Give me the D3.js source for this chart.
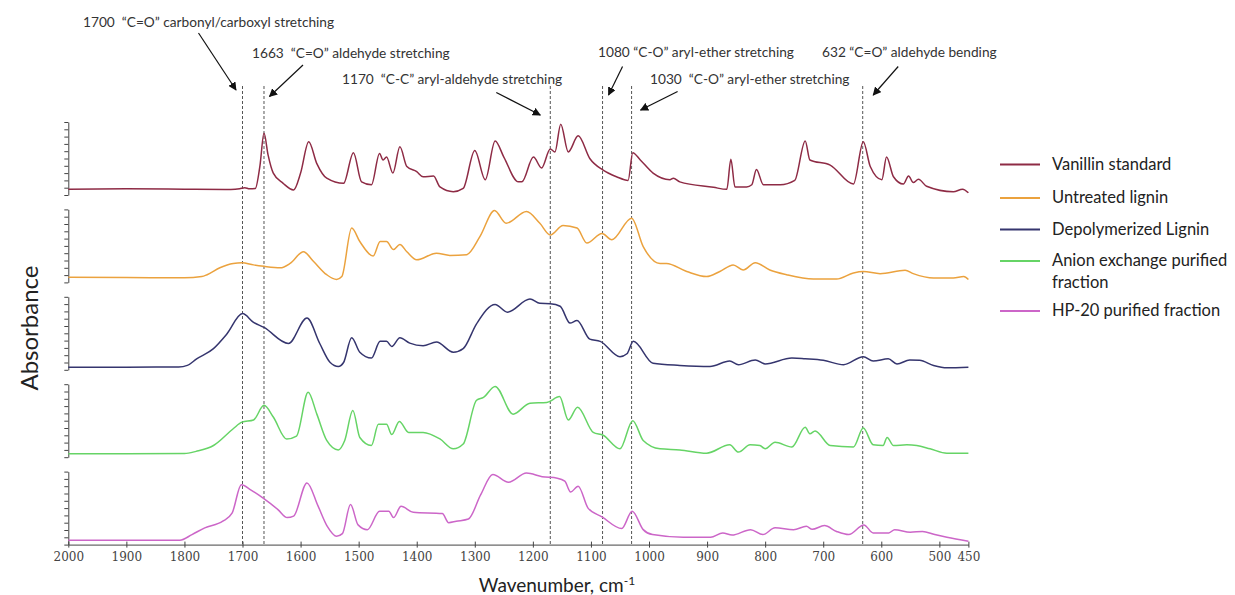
<!DOCTYPE html>
<html><head><meta charset="utf-8">
<script src="https://cdn.jsdelivr.net/npm/d3@7"></script>
<style>body{margin:0;background:#fff;} svg{display:block;}</style>
</head><body>
<svg id="chart" width="1235" height="595"></svg>
<script>
// ---------------- DATA ----------------
const seriesNames = ["Vanillin standard", "Untreated lignin", "Depolymerized Lignin", "Anion exchange purified fraction", "HP-20 purified fraction"];
const legendLines = [["Vanillin standard"], ["Untreated lignin"], ["Depolymerized Lignin"], ["Anion exchange purified", "fraction"], ["HP-20 purified fraction"]];

// [wavenumber cm-1, relative absorbance]
const vanillin = [[2000,0.08],[1900,0.085],[1800,0.08],[1720,0.075],[1705,0.085],[1696,0.10],[1688,0.085],[1678,0.09],[1670,0.4],[1663,0.845],[1656,0.55],[1647,0.30],[1630,0.16],[1612,0.07],[1600,0.3],[1586,0.73],[1572,0.43],[1555,0.23],[1526,0.16],[1509,0.58],[1495,0.18],[1478,0.14],[1464,0.57],[1458,0.48],[1452,0.52],[1441,0.30],[1429,0.66],[1417,0.39],[1400,0.32],[1389,0.25],[1371,0.26],[1360,0.11],[1337,0.045],[1320,0.09],[1300,0.61],[1282,0.21],[1265,0.74],[1250,0.52],[1225,0.18],[1219,0.18],[1199,0.52],[1185,0.37],[1170,0.63],[1162,0.59],[1152,0.97],[1139,0.59],[1122,0.81],[1102,0.50],[1079,0.34],[1056,0.25],[1036,0.20],[1028,0.58],[1015,0.48],[993,0.30],[964,0.21],[958,0.23],[947,0.18],[889,0.105],[866,0.078],[859,0.49],[852,0.11],[832,0.11],[823,0.14],[815,0.35],[803,0.14],[774,0.14],[749,0.20],[731,0.74],[723,0.48],[688,0.41],[648,0.15],[631,0.73],[619,0.39],[599,0.21],[591,0.52],[579,0.25],[562,0.15],[553,0.26],[545,0.17],[536,0.215],[522,0.12],[476,0.045],[460,0.08],[450,0.03]];

const untreated = [[2000,0.07],[1900,0.068],[1800,0.062],[1770,0.08],[1761,0.105],[1739,0.20],[1716,0.26],[1701,0.27],[1681,0.24],[1663,0.22],[1635,0.20],[1618,0.26],[1595,0.42],[1578,0.29],[1555,0.105],[1538,0.04],[1529,0.08],[1512,0.745],[1498,0.56],[1475,0.36],[1463,0.56],[1452,0.56],[1440,0.45],[1429,0.52],[1417,0.42],[1400,0.31],[1366,0.40],[1343,0.37],[1314,0.38],[1291,0.63],[1266,0.985],[1246,0.81],[1211,0.97],[1188,0.81],[1170,0.65],[1148,0.78],[1124,0.745],[1107,0.54],[1081,0.67],[1064,0.585],[1030,0.88],[1010,0.49],[981,0.26],[970,0.26],[935,0.15],[901,0.08],[878,0.15],[855,0.24],[838,0.17],[817,0.27],[792,0.17],[763,0.105],[717,0.046],[677,0.046],[648,0.13],[631,0.15],[602,0.12],[559,0.165],[545,0.12],[510,0.06],[476,0.06],[458,0.08],[450,0.04]];

const depolymerized = [[2000,0.036],[1900,0.036],[1810,0.038],[1795,0.06],[1779,0.15],[1750,0.29],[1727,0.49],[1700,0.77],[1681,0.65],[1663,0.58],[1621,0.36],[1589,0.71],[1567,0.36],[1549,0.10],[1535,0.045],[1526,0.10],[1512,0.44],[1498,0.24],[1478,0.16],[1463,0.39],[1452,0.39],[1443,0.32],[1429,0.44],[1412,0.365],[1389,0.33],[1366,0.38],[1337,0.24],[1320,0.29],[1297,0.63],[1265,0.895],[1244,0.79],[1205,0.97],[1188,0.91],[1170,0.905],[1153,0.87],[1136,0.64],[1124,0.675],[1102,0.42],[1084,0.39],[1050,0.18],[1038,0.22],[1027,0.39],[993,0.09],[947,0.06],[895,0.045],[861,0.12],[846,0.07],[817,0.135],[800,0.08],[754,0.16],[731,0.15],[700,0.13],[665,0.07],[631,0.18],[614,0.12],[588,0.15],[573,0.08],[551,0.135],[534,0.13],[510,0.06],[487,0.027],[450,0.036]];

const anionFraction = [[2000,0.047],[1900,0.047],[1800,0.05],[1780,0.08],[1750,0.16],[1716,0.39],[1701,0.48],[1681,0.51],[1663,0.71],[1647,0.55],[1624,0.25],[1607,0.29],[1587,0.89],[1572,0.59],[1555,0.23],[1535,0.10],[1524,0.23],[1510,0.64],[1498,0.27],[1478,0.16],[1466,0.45],[1452,0.45],[1443,0.31],[1430,0.49],[1414,0.34],[1389,0.34],[1360,0.25],[1337,0.115],[1320,0.18],[1297,0.78],[1285,0.82],[1265,0.97],[1234,0.59],[1205,0.74],[1176,0.75],[1154,0.83],[1139,0.51],[1123,0.685],[1096,0.34],[1079,0.30],[1050,0.115],[1028,0.50],[1010,0.23],[981,0.115],[947,0.10],[901,0.055],[861,0.17],[846,0.07],[826,0.17],[809,0.16],[800,0.115],[783,0.205],[754,0.14],[731,0.41],[723,0.32],[714,0.36],[688,0.16],[648,0.14],[631,0.40],[614,0.17],[597,0.16],[590,0.27],[579,0.16],[556,0.17],[539,0.16],[516,0.115],[487,0.055],[450,0.055]];

const hp20Fraction = [[2000,0.06],[1900,0.06],[1808,0.06],[1787,0.137],[1765,0.23],[1734,0.32],[1718,0.43],[1702,0.82],[1686,0.75],[1665,0.64],[1639,0.48],[1623,0.37],[1612,0.39],[1589,0.845],[1570,0.53],[1554,0.25],[1538,0.114],[1528,0.15],[1514,0.55],[1501,0.27],[1485,0.205],[1464,0.457],[1448,0.457],[1440,0.37],[1427,0.525],[1406,0.443],[1356,0.425],[1345,0.30],[1332,0.32],[1311,0.35],[1290,0.68],[1269,0.96],[1242,0.854],[1211,0.98],[1184,0.93],[1158,0.91],[1145,0.87],[1135,0.72],[1122,0.80],[1105,0.50],[1081,0.38],[1047,0.22],[1029,0.457],[1010,0.205],[994,0.137],[941,0.10],[894,0.10],[873,0.16],[857,0.13],[825,0.205],[804,0.137],[783,0.23],[751,0.205],[729,0.25],[719,0.21],[698,0.26],[677,0.18],[656,0.137],[630,0.27],[614,0.16],[587,0.16],[577,0.205],[550,0.17],[529,0.18],[508,0.137],[487,0.10],[450,0.045]];

const xTickValues = [2000,1900,1800,1700,1600,1500,1400,1300,1200,1100,1000,900,800,700,600,500,450];
const annotationWn = [1700, 1663, 1170, 1080, 1030, 632];
const annotationLabels = ["1700  \u201CC=O\u201D carbonyl/carboxyl stretching", "1663  \u201CC=O\u201D aldehyde stretching", "1170  \u201CC-C\u201D aryl-aldehyde stretching", "1080 \u201CC-O\u201D aryl-ether stretching", "1030  \u201CC-O\u201D aryl-ether stretching", "632 \u201CC=O\u201D aldehyde bending"];

// ---------------- STYLE / LAYOUT ----------------
const allSeries = [vanillin, untreated, depolymerized, anionFraction, hp20Fraction];
const colors = ["#8e2b45", "#eba23e", "#35356e", "#66d466", "#cc66c8"];
// annotation layout: text position, arrow start/tip offsets from the dashed line
const annLayout = [
  {tx: 83, ty: 27, sx: -44, sy: 33, ex: -6.5, ey: 90},
  {tx: 252, ty: 58, sx: 39, sy: 65, ex: 5.5, ey: 96.5},
  {tx: 342, ty: 84, sx: -54, sy: 92.5, ex: -10, ey: 115},
  {tx: 598, ty: 57, sx: 20, sy: 66.5, ex: 6, ey: 95},
  {tx: 650, ty: 84, sx: 46, sy: 91.5, ex: 9, ey: 110},
  {tx: 822, ty: 57, sx: 35.5, sy: 66.5, ex: 10.5, ey: 95}
];

const svg = d3.select("#chart");
const x = d3.scaleLinear().domain([2000, 450]).range([68.3, 968.4]);
const panelStep = 87.4, firstBottom = 195, panelH = 73;
const yScales = allSeries.map((s, i) => {
  const b = firstBottom + i * panelStep;
  return d3.scaleLinear().domain([0, 1]).range([b, b - panelH]);
});
const axisBottomY = firstBottom + 4 * panelStep;

// dashed reference lines
svg.append("g").selectAll("line").data(annotationWn).join("line")
  .attr("x1", d => x(d)).attr("x2", d => x(d))
  .attr("y1", 86).attr("y2", axisBottomY)
  .attr("stroke", "#555").attr("stroke-width", 1).attr("stroke-dasharray", "3,2");

// panel y axes
yScales.forEach((ys) => {
  const g = svg.append("g").attr("transform", `translate(${x(2000)},0)`)
    .call(d3.axisLeft(ys).tickValues(d3.range(0, 1.0001, 0.1)).tickFormat("").tickSize(4).tickSizeOuter(0));
  g.select(".domain").attr("stroke", "#444");
  g.selectAll(".tick line").attr("stroke", "#444");
});

// x axis
const xg = svg.append("g").attr("transform", `translate(0,${axisBottomY})`)
  .call(d3.axisBottom(x).tickValues(xTickValues).tickSize(3).tickSizeOuter(0).tickPadding(5).tickFormat(d3.format("d")));
xg.attr("font-family", null);
xg.select(".domain").attr("stroke", "#444");
xg.selectAll(".tick line").attr("stroke", "#444").attr("y1", -3);
xg.selectAll(".tick text").style("font-family", "'DejaVu Serif', 'Liberation Serif', serif").style("font-size", "12px").attr("fill", "#444");

// spectra
const line = d3.line().x(d => x(d[0])).curve(d3.curveMonotoneX);
allSeries.forEach((s, i) => {
  svg.append("path").datum(s)
    .attr("d", line.y(d => yScales[i](d[1])))
    .attr("fill", "none").attr("stroke", colors[i]).attr("stroke-width", 1.5)
    .attr("stroke-linejoin", "round");
});

// annotations
const defs = svg.append("defs");
defs.append("marker").attr("id", "arrow").attr("viewBox", "0 0 10 10").attr("refX", 9).attr("refY", 5)
  .attr("markerWidth", 7).attr("markerHeight", 7).attr("orient", "auto-start-reverse")
  .append("path").attr("d", "M0,0 L10,5 L0,10 z").attr("fill", "#111");
const ann = svg.append("g");
annotationWn.forEach((wn, i) => {
  const L = annLayout[i];
  ann.append("text").attr("x", L.tx).attr("y", L.ty).text(annotationLabels[i])
    .attr("font-family", "Lato").attr("font-size", 13.7).attr("fill", "#333")
    .style("white-space", "pre");
  ann.append("line").attr("x1", x(wn) + L.sx).attr("y1", L.sy).attr("x2", x(wn) + L.ex).attr("y2", L.ey)
    .attr("stroke", "#111").attr("stroke-width", 1.2).attr("marker-end", "url(#arrow)");
});

// legend
const lg = svg.append("g");
const legendRowY = [163.5, 197, 228.5, 260, 310];
legendLines.forEach((lines, i) => {
  const yy = legendRowY[i];
  lg.append("line").attr("x1", 1000).attr("x2", 1040).attr("y1", yy + 1).attr("y2", yy + 1)
    .attr("stroke", colors[i]).attr("stroke-width", 2);
  lines.forEach((t, j) => {
    lg.append("text").attr("x", 1052).attr("y", yy + 6 + j * 21.7).text(t)
      .attr("font-family", "Lato").attr("font-size", 16.5).attr("fill", "#222");
  });
});

// axis titles
svg.append("text").attr("transform", `translate(38,328) rotate(-90)`)
  .attr("text-anchor", "middle").attr("font-family", "Lato").attr("font-size", 24).attr("fill", "#222")
  .text("Absorbance");
const xt = svg.append("text").attr("x", 557).attr("y", 592).attr("text-anchor", "middle")
  .attr("font-family", "Lato").attr("font-size", 19).attr("fill", "#222");
xt.append("tspan").text("Wavenumber, cm");
xt.append("tspan").attr("dy", -7).attr("font-size", 12).text("-1");
</script>
</body></html>
